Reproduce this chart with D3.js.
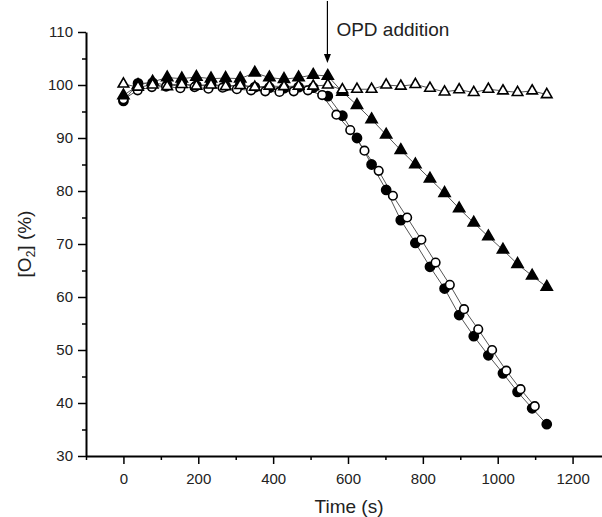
<!DOCTYPE html>
<html>
<head>
<meta charset="utf-8">
<script src="https://cdn.jsdelivr.net/npm/d3@7/dist/d3.min.js"></script>
<style>
  body { margin: 0; background: #fff; }
  svg { display: block; font-family: 'Liberation Sans', Arial, sans-serif; }
</style>
</head>
<body>
<div id="chart"></div>
<script>
// Sampling times (s)
const timeMain = [0, 39, 78, 117, 156, 195, 234, 273, 312, 351, 390, 429, 468, 507, 546,
  585, 624, 663, 702, 741, 780, 819, 858, 897, 936, 975, 1014, 1053, 1092, 1131];
const timeOpenCircle = [0, 38, 76, 114, 152, 190, 227, 265, 303, 341, 379, 417, 455, 493, 531,
  569, 606, 644, 682, 720, 758, 796, 834, 872, 910, 948, 985, 1023, 1061, 1099];

// [O2] (%) per series
const filledCircle = [97.0, 100.3, 100.4, 100.0, 100.2, 99.9, 100.1, 99.8, 100.0, 99.6, 99.5, 99.4, 99.6, 99.5, 97.9,
  94.2, 90.0, 85.0, 80.2, 74.5, 70.2, 65.7, 61.6, 56.6, 52.6, 49.0, 45.6, 42.1, 39.0, 36.0];
const openCircle = [97.3, 99.0, 99.6, 99.7, 99.4, 99.6, 99.3, 99.5, 99.2, 99.0, 98.8, 98.7, 98.8, 99.0, 98.1,
  94.4, 91.5, 87.6, 83.8, 79.1, 75.0, 70.8, 66.5, 62.3, 57.7, 53.9, 50.0, 46.1, 42.6, 39.4];
const filledTriangle = [98.0, 100.0, 100.6, 101.4, 101.2, 101.5, 101.2, 101.3, 101.2, 102.3, 101.4, 101.1, 101.4, 101.9, 101.7,
  98.7, 96.2, 93.5, 90.6, 87.7, 85.0, 82.3, 79.6, 76.7, 74.0, 71.4, 68.9, 66.2, 64.0, 61.9];
const openTriangle = [100.2, 99.6, 100.0, 99.7, 100.1, 99.8, 100.0, 99.7, 99.9, 99.6, 99.8, 99.7, 99.8, 99.8, 100.0,
  99.1, 99.2, 99.2, 100.0, 99.8, 100.1, 99.4, 98.7, 99.1, 98.6, 99.2, 98.9, 98.6, 98.9, 98.2];

const xTicks = [0, 200, 400, 600, 800, 1000, 1200];
const yTicks = [30, 40, 50, 60, 70, 80, 90, 100, 110];
const annotationTime = 545;

const width = 602;
const height = 517;

const svg = d3.select('#chart')
  .append('svg')
  .attr('width', width)
  .attr('height', height);

const x = d3.scaleLinear().domain([-100, 1300]).range([86, 610]);
const y = d3.scaleLinear().domain([30, 110]).range([456, 32]);

// Minor ticks first so the major ones draw on top
const xMinor = d3.range(-100, 1301, 100).filter((d) => !xTicks.includes(d));
const yMinor = d3.range(35, 110, 10);

svg.append('g')
  .attr('transform', `translate(0,${y(30)})`)
  .call(d3.axisBottom(x).tickValues(xMinor).tickSize(4).tickSizeOuter(0).tickFormat(''))
  .call((g) => g.select('.domain').remove());

svg.append('g')
  .attr('transform', `translate(${x(-100)},0)`)
  .call(d3.axisLeft(y).tickValues(yMinor).tickSize(4).tickSizeOuter(0).tickFormat(''))
  .call((g) => g.select('.domain').remove());

const xAxis = svg.append('g')
  .attr('transform', `translate(0,${y(30)})`)
  .call(d3.axisBottom(x).tickValues(xTicks).tickSize(8).tickSizeOuter(0).tickPadding(9).tickFormat(d3.format('d')));

const yAxis = svg.append('g')
  .attr('transform', `translate(${x(-100)},0)`)
  .call(d3.axisLeft(y).tickValues(yTicks).tickSize(8).tickSizeOuter(0).tickPadding(5));

[xAxis, yAxis].forEach((g) => {
  g.selectAll('.domain').attr('stroke', '#000').attr('stroke-width', 2);
  g.selectAll('text')
    .attr('fill', '#222')
    .style('font-size', '15px')
    .style('font-family', "'Liberation Sans', Arial, sans-serif");
});
svg.selectAll('.tick line').attr('stroke', '#000').attr('stroke-width', 1.5);

// Axis titles
svg.append('text')
  .attr('x', 349)
  .attr('y', 513)
  .attr('text-anchor', 'middle')
  .attr('font-size', '19px')
  .attr('fill', '#222')
  .text('Time (s)');

const yTitle = svg.append('text')
  .attr('transform', `translate(31,${(y(30) + y(110)) / 2}) rotate(-90)`)
  .attr('text-anchor', 'middle')
  .attr('font-size', '19px')
  .attr('fill', '#222');
yTitle.append('tspan').text('[O');
yTitle.append('tspan').attr('font-size', '12px').attr('dy', 4).text('2');
yTitle.append('tspan').attr('dy', -4).text('] (%)');

// Series
const series = [
  { name: 'filledCircle', t: timeMain, v: filledCircle, shape: d3.symbolCircle, size: 66, fill: '#000' },
  { name: 'openCircle', t: timeOpenCircle, v: openCircle, shape: d3.symbolCircle, size: 58, fill: '#fff' },
  { name: 'filledTriangle', t: timeMain, v: filledTriangle, shape: d3.symbolTriangle, size: 54, fill: '#000' },
  { name: 'openTriangle', t: timeMain, v: openTriangle, shape: d3.symbolTriangle, size: 48, fill: '#fff' },
];

const line = d3.line()
  .x((d) => x(d[0]))
  .y((d) => y(d[1]));

series.forEach((s) => {
  svg.append('path')
    .datum(d3.zip(s.t, s.v))
    .attr('fill', 'none')
    .attr('stroke', '#555')
    .attr('stroke-width', 1)
    .attr('d', line);
});

series.forEach((s) => {
  svg.append('g')
    .attr('class', s.name)
    .selectAll('path')
    .data(d3.zip(s.t, s.v))
    .enter()
    .append('path')
    .attr('transform', (d) => `translate(${x(d[0])},${y(d[1])})`)
    .attr('d', d3.symbol().type(s.shape).size(s.size))
    .attr('fill', s.fill)
    .attr('stroke', '#000')
    .attr('stroke-width', 1.6);
});

// OPD addition arrow
const ax = x(annotationTime);
svg.append('line')
  .attr('x1', ax).attr('x2', ax)
  .attr('y1', 1).attr('y2', 56)
  .attr('stroke', '#000')
  .attr('stroke-width', 1.2);
svg.append('path')
  .attr('d', `M${ax - 3.5},54 L${ax + 3.5},54 L${ax},63 Z`)
  .attr('fill', '#000');

svg.append('text')
  .attr('x', ax + 9)
  .attr('y', 36)
  .attr('font-size', '19px')
  .attr('fill', '#222')
  .text('OPD addition');
</script>
</body>
</html>
